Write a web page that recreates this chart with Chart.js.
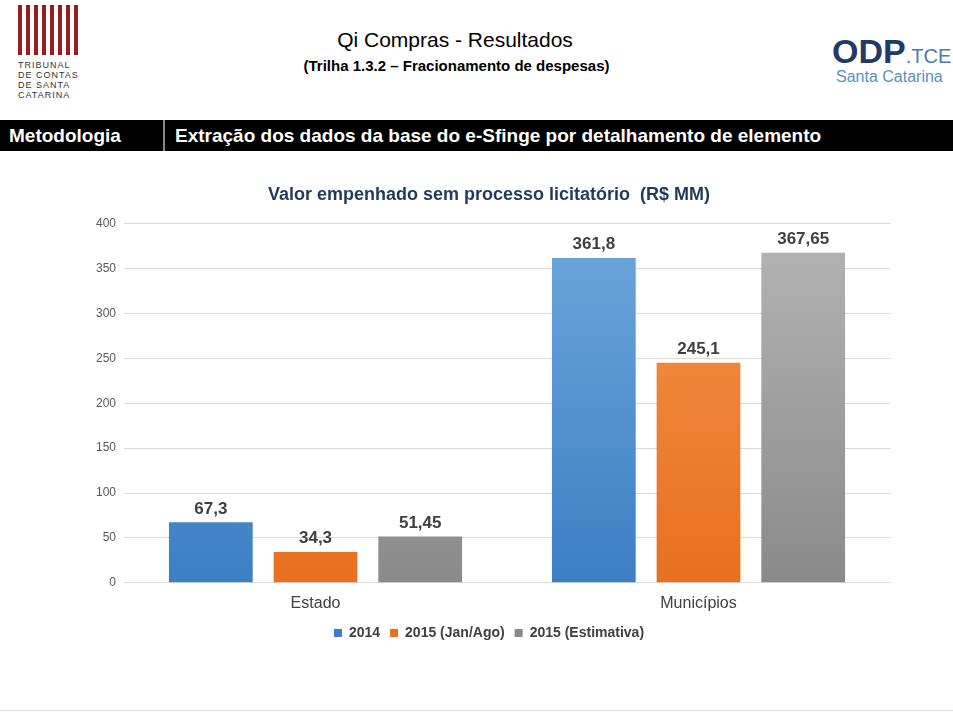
<!DOCTYPE html>
<html>
<head>
<style>
body { margin:0; width:953px; height:713px; background:#fff; font-family: Arial, "Liberation Sans", sans-serif; position:relative; overflow:hidden; }
#t1 { position:absolute; top:28px; left:0; width:910px; text-align:center; font-size:21px; color:#000; }
#t2 { position:absolute; top:57px; left:0; width:913px; text-align:center; font-size:15px; font-weight:bold; color:#000; }
#bar { position:absolute; top:120px; left:0; width:953px; height:31px; background:#000; color:#fff; font-weight:bold; font-size:19px; }
#bar .a { position:absolute; left:9px; top:5px; }
#bar .b { position:absolute; left:175px; top:5px; }
#bar .d { position:absolute; left:163px; top:0; width:2px; height:31px; background:#888; }
#tcl { position:absolute; left:18px; top:60px; font-size:9px; line-height:10px; letter-spacing:1px; color:#333; }
#tcicon { position:absolute; left:18px; top:5px; width:60px; height:50px; background:repeating-linear-gradient(90deg,#9b1c1c 0 4px,#fff 4px 8px); }
#odp { position:absolute; left:832px; top:32px; font-size:34px; font-weight:bold; color:#223a6a; }
#odp span { font-weight:normal; font-size:20px; color:#4a7ab5; }
#sc { position:absolute; left:836px; top:68px; font-size:16px; color:#5a8fc5; }
#ch { position:absolute; left:88px; top:180px; width:802px; height:470px; }
#foot { position:absolute; left:0; top:710px; width:953px; height:1px; background:#ddd; }
</style>
<script src="https://cdn.jsdelivr.net/npm/chart.js"></script>
</head>
<body>
<div id="tcicon"></div>
<div id="tcl">TRIBUNAL<br>DE CONTAS<br>DE SANTA<br>CATARINA</div>
<div id="t1">Qi Compras - Resultados</div>
<div id="t2">(Trilha 1.3.2 – Fracionamento de despesas)</div>
<div id="odp">ODP<span>.TCE</span></div>
<div id="sc">Santa Catarina</div>
<div id="bar"><span class="a">Metodologia</span><div class="d"></div><span class="b">Extração dos dados da base do e-Sfinge por detalhamento de elemento</span></div>
<div id="ch"><canvas id="c"></canvas></div>
<div id="foot"></div>
<script>
const categories = ['Estado', 'Municípios'];
const seriesNames = ['2014', '2015 (Jan/Ago)', '2015 (Estimativa)'];
const values2014 = [67.3, 361.8];
const valuesJanAgo = [34.3, 245.1];
const valuesEstimativa = [51.45, 367.65];
const colorsTop = ['#6fa6dc', '#f4944a', '#b5b5b5'];
const colorsBottom = ['#3c7fc4', '#e8701f', '#8a8a8a'];

function grad(i) {
  return function(ctx) {
    const a = ctx.chart.chartArea;
    if (!a) return colorsBottom[i];
    const g = ctx.chart.ctx.createLinearGradient(0, a.top, 0, a.bottom);
    g.addColorStop(0, colorsTop[i]);
    g.addColorStop(1, colorsBottom[i]);
    return g;
  };
}

const labelPlugin = {
  id: 'vals',
  afterDatasetsDraw(chart) {
    const ctx = chart.ctx;
    ctx.save();
    ctx.font = 'bold 17px Arial';
    ctx.fillStyle = '#404040';
    ctx.textAlign = 'center';
    ctx.textBaseline = 'bottom';
    chart.data.datasets.forEach((ds, i) => {
      chart.getDatasetMeta(i).data.forEach((bar, j) => {
        ctx.fillText(String(ds.data[j]).replace('.', ','), bar.x, bar.y - 5);
      });
    });
    ctx.restore();
  }
};

const allSeries = [values2014, valuesJanAgo, valuesEstimativa];
new Chart(document.getElementById('c'), {
  type: 'bar',
  data: {
    labels: categories,
    datasets: allSeries.map((d, i) => ({
      label: seriesNames[i], data: d, backgroundColor: grad(i),
      categoryPercentage: 0.82, barPercentage: 0.8
    }))
  },
  options: {
    responsive: true, maintainAspectRatio: false, animation: false,
    layout: { padding: { right: 0 } },
    scales: {
      y: { min: 0, max: 400, ticks: { stepSize: 50, color: '#595959', font: { size: 12 }, padding: 8 },
           grid: { color: '#d9d9d9', drawTicks: false }, border: { display: false } },
      x: { ticks: { color: '#404040', font: { size: 16 } }, grid: { display: false }, border: { color: '#d9d9d9' } }
    },
    plugins: {
      title: { display: true, text: 'Valor empenhado sem processo licitatório  (R$ MM)', color: '#1f3a5a',
               font: { size: 18, weight: 'bold' }, padding: { top: 4, bottom: 18 } },
      legend: { position: 'bottom', labels: { boxWidth: 8, boxHeight: 8, color: '#404040', font: { size: 14, weight: 'bold' },
        generateLabels: chart => seriesNames.map((n, i) => ({ text: n, fillStyle: colorsBottom[i], strokeStyle: colorsBottom[i], lineWidth: 0, fontColor: '#404040', datasetIndex: i })) } },
      tooltip: { enabled: false }
    }
  },
  plugins: [labelPlugin]
});
</script>
</body>
</html>
